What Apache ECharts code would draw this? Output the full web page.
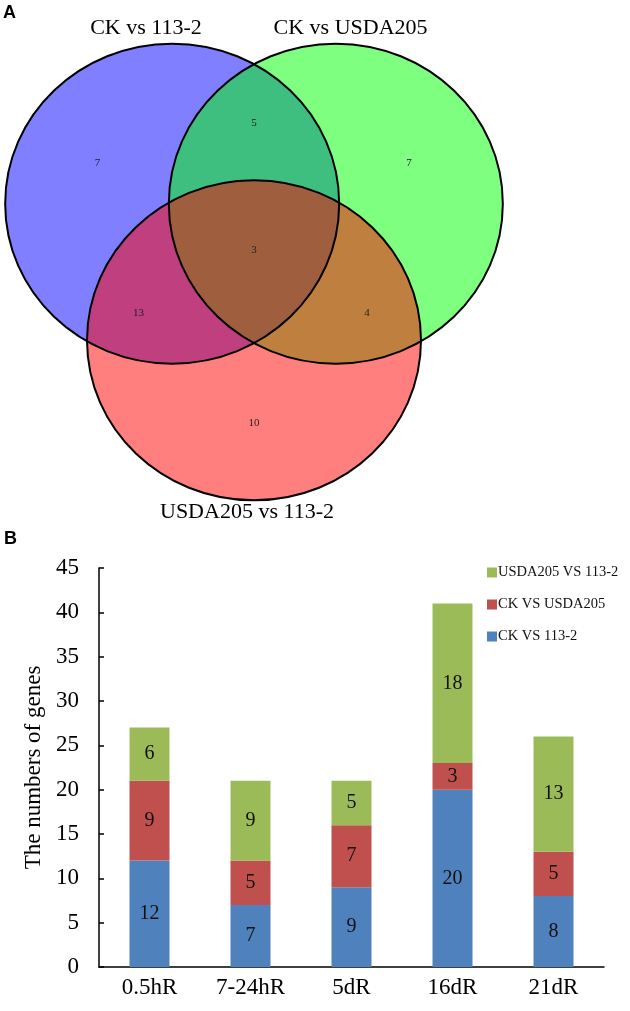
<!DOCTYPE html>
<html><head><meta charset="utf-8">
<script src="https://cdn.jsdelivr.net/npm/echarts@6/dist/echarts.min.js"></script>
<style>html,body{margin:0;padding:0;background:#fff}#c{width:630px;height:1011px}</style>
</head><body><div id="c"></div>
<script>
// ---- Panel A: Venn data ----
const vennSets = ['CK vs 113-2', 'CK vs USDA205', 'USDA205 vs 113-2'];
const vennCenters = [[-0.49, 0.427], [0.49, 0.427], [0, -0.427]];
const vennRadius = [1, 1, 1];
const vennTitlePos = [[-0.647, 1.525], [0.578, 1.525], [-0.042, -1.5]];
const regionCounts = [7, 7, 10, 5, 13, 4, 3];
const regionPos = [[-0.937, 0.681], [0.928, 0.681], [0, -0.944], [0, 0.933], [-0.692, -0.256], [0.677, -0.256], [0, 0.1375]];

// ---- Panel B: bar data ----
const categories = ['0.5hR', '7-24hR', '5dR', '16dR', '21dR'];
const ckVs113 = [12, 7, 9, 20, 8];
const ckVsUSDA = [9, 5, 7, 3, 5];
const usdaVs113 = [6, 9, 5, 18, 13];
const yTicks = [0, 5, 10, 15, 20, 25, 30, 35, 40, 45];

const vennFill = ['#0000ff', '#00ff00', '#ff0000'];
const serif = 'Liberation Serif';

const chart = echarts.init(document.getElementById('c'), null, {renderer: 'canvas'});

function ellipseItem(params, api, filled) {
  const c = api.coord([api.value(0), api.value(1)]);
  const s = api.size([api.value(2), api.value(2)]);
  return {
    type: 'ellipse',
    shape: {cx: c[0], cy: c[1], rx: s[0], ry: s[1]},
    style: filled ? {fill: vennFill[params.dataIndex], opacity: 0.5, stroke: null}
                  : {fill: null, stroke: '#000', lineWidth: 2}
  };
}
const ellipseData = vennCenters.map((c, i) => [c[0], c[1], vennRadius[i]]);

const option = {
  backgroundColor: '#fff',
  animation: false,
  graphic: [
    {type: 'text', left: 3, top: 4, style: {text: 'A', font: 'bold 18px Arial, "Liberation Sans"', fill: '#000'}},
    {type: 'text', left: 4, top: 530, style: {text: 'B', font: 'bold 18px Arial, "Liberation Sans"', fill: '#000'}}
  ],
  grid: [
    {left: 3.5, width: 501, top: 16, height: 512},
    {left: 99, width: 505, top: 568, height: 399}
  ],
  xAxis: [
    {gridIndex: 0, type: 'value', min: -1.5, max: 1.5, show: false},
    {gridIndex: 1, type: 'category', data: categories,
     axisLine: {lineStyle: {color: '#000', width: 1.5}},
     axisTick: {inside: true, length: 6, lineStyle: {color: '#000', width: 1.5}},
     axisLabel: {color: '#000', fontFamily: serif, fontSize: 23, margin: 9}}
  ],
  yAxis: [
    {gridIndex: 0, type: 'value', min: -1.6, max: 1.6, show: false},
    {gridIndex: 1, type: 'value', min: yTicks[0], max: yTicks[yTicks.length - 1], interval: 5,
     name: 'The numbers of genes', nameLocation: 'middle', nameGap: 54, nameRotate: 90,
     nameTextStyle: {color: '#000', fontFamily: serif, fontSize: 23},
     splitLine: {show: false},
     axisLine: {show: true, lineStyle: {color: '#000', width: 1.5}},
     axisTick: {show: true, inside: true, length: 5, lineStyle: {color: '#000', width: 1.5}},
     axisLabel: {color: '#000', fontFamily: serif, fontSize: 23, margin: 20}}
  ],
  legend: {
    orient: 'vertical', left: 482, top: 560, itemWidth: 10, itemHeight: 10, itemGap: 17,
    icon: 'rect', data: ['USDA205 VS 113-2', 'CK VS USDA205', 'CK VS 113-2'],
    textStyle: {color: '#111', fontFamily: serif, fontSize: 14.5, padding: [0, 0, 0, -4]}
  },
  series: [
    {type: 'custom', xAxisIndex: 0, yAxisIndex: 0, coordinateSystem: 'cartesian2d', clip: false, z: 1,
     renderItem: (p, api) => ellipseItem(p, api, true), data: ellipseData, silent: true},
    {type: 'custom', xAxisIndex: 0, yAxisIndex: 0, coordinateSystem: 'cartesian2d', clip: false, z: 2,
     renderItem: (p, api) => ellipseItem(p, api, false), data: ellipseData, silent: true},
    {type: 'scatter', xAxisIndex: 0, yAxisIndex: 0, symbolSize: 0, z: 3, silent: true,
     itemStyle: {opacity: 1},
     data: regionPos.map((p, i) => ({value: p, label: {formatter: String(regionCounts[i])}})),
     label: {show: true, position: 'inside', color: '#222', fontFamily: serif, fontSize: 11}},
    {type: 'scatter', xAxisIndex: 0, yAxisIndex: 0, symbolSize: 0, z: 3, silent: true,
     itemStyle: {opacity: 1},
     data: vennTitlePos.map((p, i) => ({value: p, label: {formatter: vennSets[i]}})),
     label: {show: true, position: 'inside', color: '#000', fontFamily: serif, fontSize: 22}},
    {name: 'CK VS 113-2', type: 'bar', stack: 'g', xAxisIndex: 1, yAxisIndex: 1, barWidth: 40,
     itemStyle: {color: '#4F81BD'}, data: ckVs113,
     label: {show: true, position: 'inside', color: '#111', fontFamily: serif, fontSize: 20}},
    {name: 'CK VS USDA205', type: 'bar', stack: 'g', xAxisIndex: 1, yAxisIndex: 1, barWidth: 40,
     itemStyle: {color: '#C0504D'}, data: ckVsUSDA,
     label: {show: true, position: 'inside', color: '#111', fontFamily: serif, fontSize: 20}},
    {name: 'USDA205 VS 113-2', type: 'bar', stack: 'g', xAxisIndex: 1, yAxisIndex: 1, barWidth: 40,
     itemStyle: {color: '#9BBB59'}, data: usdaVs113,
     label: {show: true, position: 'inside', color: '#111', fontFamily: serif, fontSize: 20}}
  ]
};
chart.setOption(option);
</script>
</body></html>
